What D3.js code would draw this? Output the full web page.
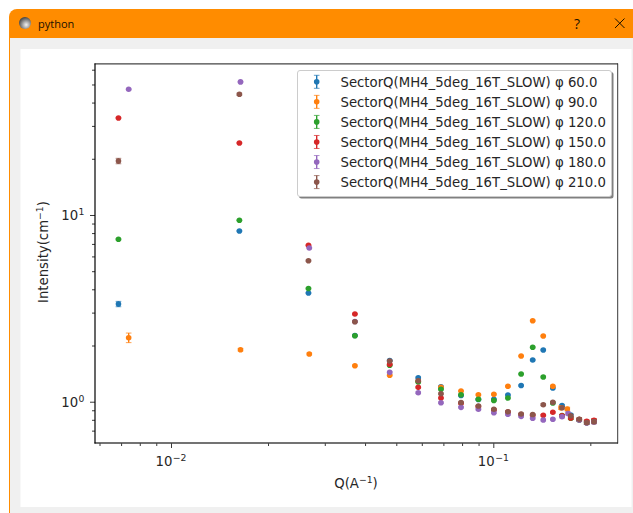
<!DOCTYPE html>
<html><head><meta charset="utf-8">
<script src="https://cdn.jsdelivr.net/npm/d3@7/dist/d3.min.js"></script>
<style>html,body{margin:0;padding:0;background:#fff;overflow:hidden}svg{display:block}text{font-family:"DejaVu Sans",sans-serif}</style>
</head><body><svg id="c" width="633" height="513"></svg>
<script>
const windowTitle = "python";
const xLabel = "Q(A", yLabel = "Intensity(cm";
const seriesNames = ["SectorQ(MH4_5deg_16T_SLOW) φ 60.0","SectorQ(MH4_5deg_16T_SLOW) φ 90.0","SectorQ(MH4_5deg_16T_SLOW) φ 120.0","SectorQ(MH4_5deg_16T_SLOW) φ 150.0","SectorQ(MH4_5deg_16T_SLOW) φ 180.0","SectorQ(MH4_5deg_16T_SLOW) φ 210.0"];
const colors = ["#1f77b4","#ff7f0e","#2ca02c","#d62728","#9467bd","#8c564b"];
const qCommon = [0.00687,0.0163,0.0267,0.0372,0.0477,0.0585,0.0688,0.0794,0.0899,0.1004,0.1110,0.1220,0.1325,0.1429,0.1530,0.1634,0.1739,0.1848,0.1949,0.2053];
const qOrange = [0.00739,0.01643,0.02686,0.0372,0.0477,0.0585,0.0688,0.0794,0.0899,0.1004,0.1110,0.1220,0.1325,0.1429,0.1530,0.1622,0.1697,0.1848,0.1949,0.2053];
const qPurple = [0.00739,0.01643,0.02686,0.0372,0.0477,0.0585,0.0688,0.0794,0.0899,0.1004,0.1110,0.1220,0.1325,0.1429,0.1530,0.1634,0.1706,0.1848,0.1949,0.2053];
const iBlue   = [3.336,8.21,3.82,2.262,1.662,1.345,1.203,1.08,1.027,1.03,1.086,1.221,1.672,1.892,1.184,0.954,0.849,0.803,0.774,0.788];
const iOrange = [2.202,1.899,1.801,1.559,1.385,1.286,1.194,1.141,1.09,1.095,1.209,1.757,2.715,2.248,1.209,0.929,0.914,0.803,0.778,0.788];
const iGreen  = [7.41,9.37,4.04,2.257,1.567,1.275,1.165,1.09,1.03,1.015,1.047,1.407,1.956,1.356,0.984,0.844,0.815,0.798,0.774,0.788];
const iRed    = [33.08,24.3,6.88,2.949,1.586,1.194,1.047,0.98,0.943,0.903,0.881,0.854,0.846,0.846,0.878,0.841,0.818,0.803,0.785,0.795];
const iPurple = [47.1,51.6,6.66,2.69,1.437,1.117,0.988,0.933,0.911,0.873,0.856,0.835,0.816,0.798,0.806,0.831,0.865,0.798,0.769,0.778];
const iBrown  = [19.46,44.3,5.69,2.682,1.652,1.296,1.104,0.99,0.948,0.911,0.884,0.859,0.854,0.964,0.993,0.929,0.841,0.805,0.772,0.781];
const eBlue   = [0.11,0.03,0.02,0.012,0.01,0.01,0.008,0.008,0.008,0.008,0.008,0.009,0.012,0.014,0.012,0.01,0.012,0.012,0.014,0.016];
const eOrange = [0.13,0.03,0.02,0.012,0.01,0.01,0.008,0.008,0.008,0.008,0.009,0.012,0.018,0.016,0.014,0.02,0.02,0.014,0.016,0.018];
const eGreen  = [0.06,0.04,0.025,0.014,0.01,0.01,0.008,0.008,0.008,0.008,0.008,0.01,0.014,0.012,0.01,0.01,0.012,0.012,0.014,0.016];
const eRed    = [0.2,0.1,0.04,0.02,0.012,0.01,0.008,0.008,0.008,0.008,0.008,0.008,0.008,0.008,0.008,0.01,0.012,0.012,0.014,0.016];
const ePurple = [0.3,0.2,0.04,0.02,0.012,0.01,0.008,0.008,0.008,0.008,0.008,0.008,0.008,0.008,0.008,0.012,0.016,0.012,0.014,0.016];
const eBrown  = [0.65,0.6,0.04,0.02,0.012,0.01,0.008,0.008,0.008,0.008,0.008,0.008,0.008,0.01,0.01,0.014,0.012,0.012,0.016,0.018];
const allI = [iBlue,iOrange,iGreen,iRed,iPurple,iBrown];
const allE = [eBlue,eOrange,eGreen,eRed,ePurple,eBrown];
const allQ = [qCommon,qOrange,qCommon,qCommon,qPurple,qCommon];
const xMajor = [0.01,0.1], yMajor = [1,10];
const xMajorExp = ["\u22122","\u22121"], yMajorExp = ["0","1"];
const xMinor = [0.006,0.007,0.008,0.009,0.02,0.03,0.04,0.05,0.06,0.07,0.08,0.09,0.2];
const yMinor = [0.7,0.8,0.9,2,3,4,5,6,7,8,9,20,30,40,50,60];

const svg = d3.select("#c");
// window chrome
svg.append("path").attr("d","M9.5 513V17a8 8 0 0 1 8-8H633V513Z").attr("fill","#f0f0f0").attr("stroke","none");
svg.append("path").attr("d","M9 38V17a8 8 0 0 1 8-8H633V38Z").attr("fill","#ff8c00");
svg.append("rect").attr("x",9).attr("y",38).attr("width",1).attr("height",475).attr("fill","#ff8c00");
svg.append("rect").attr("x",20.5).attr("y",49).attr("width",611).attr("height",458).attr("fill","#fff");
const gr = svg.append("defs").append("radialGradient").attr("id","ic").attr("cx","0.6").attr("cy","0.65").attr("r","0.65");
gr.append("stop").attr("offset","0").attr("stop-color","#f2f2f2");
gr.append("stop").attr("offset","1").attr("stop-color","#454545");
svg.append("circle").attr("cx",25).attr("cy",23).attr("r",6).attr("fill","url(#ic)");
svg.append("text").attr("x",38).attr("y",28).attr("font-size",11).attr("fill","#1a1000").style("font-family","'Open Sans',sans-serif").text(windowTitle);
svg.append("text").attr("x",577).attr("y",29).attr("text-anchor","middle").attr("font-size",14).attr("fill","#1a1000").style("font-family","'Open Sans',sans-serif").text("?");
svg.append("path").attr("d","M615 18.5L624.5 28M624.5 18.5L615 28").attr("stroke","#1a1000").attr("stroke-width",1).attr("fill","none");

const x = d3.scaleLog().domain([0.00581,0.2432]).range([95,617.7]);
const y = d3.scaleLog().domain([0.601,64.6]).range([443,63.7]);

function sup(t, base, exp){
  t.append("tspan").text(base);
  t.append("tspan").attr("font-size",9.3).attr("dy",-5).attr("dx",0.5).text(exp);
}
// axes through d3
const gx = svg.append("g").attr("transform","translate(0,443)");
gx.call(d3.axisBottom(x).tickValues(xMinor).tickSize(3).tickFormat(""));
const gxM = svg.append("g").attr("transform","translate(0,443)");
gxM.call(d3.axisBottom(x).tickValues(xMajor).tickSize(5).tickFormat(""));
const gy = svg.append("g").attr("transform","translate(95,0)");
gy.call(d3.axisLeft(y).tickValues(yMinor).tickSize(3).tickFormat(""));
const gyM = svg.append("g").attr("transform","translate(95,0)");
gyM.call(d3.axisLeft(y).tickValues(yMajor).tickSize(5).tickFormat(""));
svg.selectAll(".domain").remove();
svg.selectAll(".tick line").attr("stroke","#222").attr("stroke-width",0.9);

const tc = "#262626";
xMajor.forEach((v,i)=>{
  const t = svg.append("text").attr("x",x(v)).attr("y",465.5).attr("text-anchor","middle").attr("font-size",13.25).attr("fill",tc);
  sup(t,"10",xMajorExp[i]);
});
yMajor.forEach((v,i)=>{
  const t = svg.append("text").attr("x",84.5).attr("y",y(v)+5).attr("text-anchor","end").attr("font-size",13.25).attr("fill",tc);
  sup(t,"10",yMajorExp[i]);
});
const xl = svg.append("text").attr("x",356).attr("y",488).attr("text-anchor","middle").attr("font-size",13.25).attr("fill",tc);
xl.append("tspan").text(xLabel);
xl.append("tspan").attr("font-size",9.3).attr("dy",-5).text("\u22121");
xl.append("tspan").attr("dy",5).text(")");
const yl = svg.append("text").attr("transform","translate(48,252) rotate(-90)").attr("text-anchor","middle").attr("font-size",13.25).attr("fill",tc);
yl.append("tspan").text(yLabel);
yl.append("tspan").attr("font-size",9.3).attr("dy",-5).text("\u22121");
yl.append("tspan").attr("dy",5).text(")");

// data
const plot = svg.append("g");
colors.forEach((c,s)=>{
  const pts = allQ[s].map((q,i)=>({q,v:allI[s][i],e:allE[s][i]}));
  const g = plot.append("g").selectAll("g").data(pts).join("g");
  g.append("line").attr("x1",d=>x(d.q)).attr("x2",d=>x(d.q)).attr("y1",d=>y(d.v-d.e)).attr("y2",d=>y(d.v+d.e)).attr("stroke",c).attr("stroke-width",1.4);
  [1,-1].forEach(k=>g.append("line").attr("x1",d=>x(d.q)-2.8).attr("x2",d=>x(d.q)+2.8).attr("y1",d=>y(d.v+k*d.e)).attr("y2",d=>y(d.v+k*d.e)).attr("stroke",c).attr("stroke-width",0.9).attr("stroke-opacity",0.8));
  g.append("circle").attr("cx",d=>x(d.q)).attr("cy",d=>y(d.v)).attr("r",2.8).attr("fill",c);
});

// spines
svg.append("line").attr("x1",94.5).attr("x2",618).attr("y1",63.8).attr("y2",63.8).attr("stroke","#444").attr("stroke-width",1.3);
svg.append("line").attr("x1",94.5).attr("x2",618).attr("y1",443).attr("y2",443).attr("stroke","#444").attr("stroke-width",1.3);
svg.append("line").attr("x1",95).attr("x2",95).attr("y1",63.5).attr("y2",443.5).attr("stroke","#000").attr("stroke-width",1.2);
svg.append("line").attr("x1",617.7).attr("x2",617.7).attr("y1",63.5).attr("y2",443.5).attr("stroke","#222").attr("stroke-width",0.9);

// legend
svg.append("rect").attr("x",299).attr("y",72).attr("width",314.5).attr("height",126.5).attr("rx",2.5).attr("fill","#808080");
svg.append("rect").attr("x",297.5).attr("y",70.5).attr("width",314).attr("height",126).attr("rx",2.5).attr("fill","#fff").attr("stroke","#ccc").attr("stroke-width",1);
seriesNames.forEach((n,i)=>{
  const ly = 81.8+i*20.06, c=colors[i];
  const g = svg.append("g");
  g.append("line").attr("x1",316.7).attr("x2",316.7).attr("y1",ly-6.5).attr("y2",ly+6.5).attr("stroke",c).attr("stroke-width",1.4);
  [-6.5,6.5].forEach(k=>g.append("line").attr("x1",313.9).attr("x2",319.5).attr("y1",ly+k).attr("y2",ly+k).attr("stroke",c).attr("stroke-width",0.9).attr("stroke-opacity",0.8));
  g.append("circle").attr("cx",316.7).attr("cy",ly).attr("r",2.8).attr("fill",c);
  g.append("text").attr("x",340.5).attr("y",ly+4.7).attr("font-size",13.25).attr("fill",tc).text(n);
});
</script></body></html>
